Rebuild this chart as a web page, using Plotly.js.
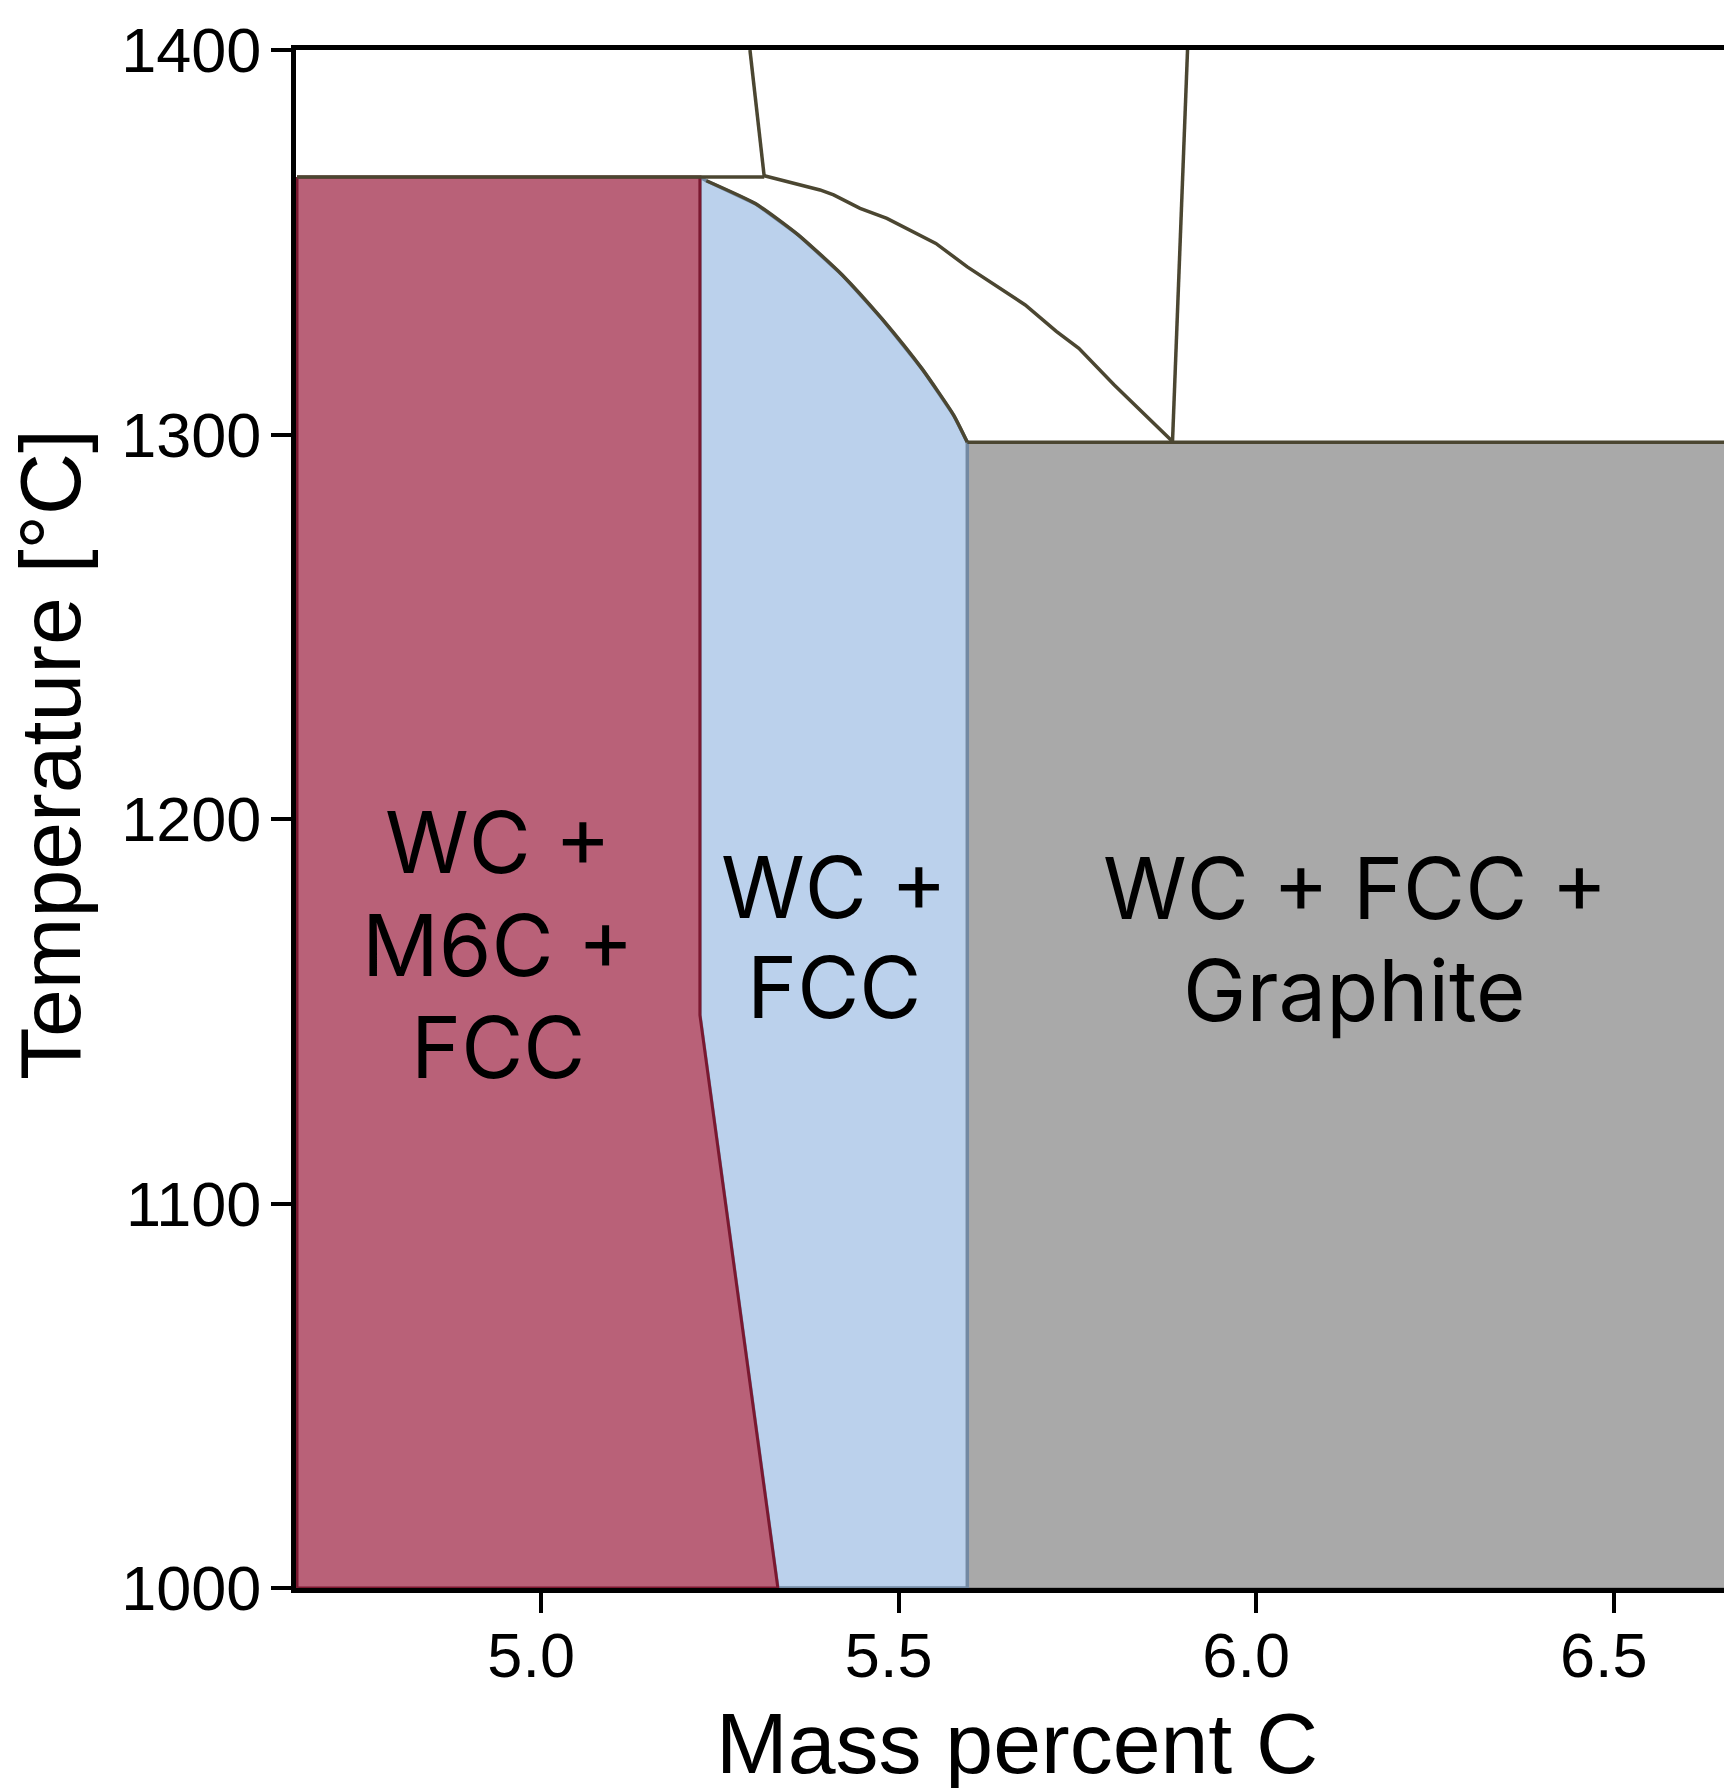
<!DOCTYPE html>
<html>
<head>
<meta charset="utf-8">
<script src="https://cdn.plot.ly/plotly-3.0.1.min.js"></script>
<style>html,body{margin:0;padding:0;background:#fff;}#chart{width:1724px;height:1788px;}</style>
</head>
<body>
<div id="chart"></div>
<script>
// ---------- data ----------
// WC + M6C + FCC field
const m6cX = [4.6585, 5.222, 5.222, 5.331, 4.6585, 4.6585];
const m6cT = [1367, 1367, 1149, 1000, 1000, 1367];
// WC + FCC field
const fccX = [5.222, 5.231, 5.300, 5.359, 5.421, 5.477, 5.533, 5.577, 5.596, 5.596, 5.331, 5.222, 5.222];
const fccT = [1367, 1366, 1360, 1352, 1341.5, 1330, 1317, 1305, 1298, 1000, 1000, 1149, 1367];
// WC + FCC + Graphite field
const grX = [5.596, 6.70, 6.70, 5.596, 5.596];
const grT = [1298, 1298, 1000, 1000, 1298];
// phase boundary lines
const solidusX = [4.6585, 5.312];
const solidusT = [1367, 1367];
const leftTieX = [5.312, 5.292];
const leftTieT = [1367, 1400];
const fccLiqX = [5.231, 5.300, 5.359, 5.421, 5.477, 5.533, 5.577, 5.596];
const fccLiqT = [1366, 1360, 1352, 1341.5, 1330, 1317, 1305, 1298];
const liqX = [5.312, 5.390, 5.409, 5.446, 5.4835, 5.552, 5.596, 5.677, 5.7205, 5.752, 5.8015, 5.883];
const liqT = [1367.3, 1363.6, 1362.3, 1358.8, 1356.2, 1349.7, 1343.6, 1333.7, 1326.8, 1322.4, 1312.9, 1298.2];
const rightTieX = [5.883, 5.904];
const rightTieT = [1298.2, 1400];
const eutX = [5.596, 6.70];
const eutT = [1298, 1298];
// tick labels and region labels
const xTicks = [5.0, 5.5, 6.0, 6.5];
const xTickText = ['5.0', '5.5', '6.0', '6.5'];
const yTicks = [1000, 1100, 1200, 1300, 1400];
const yTickText = ['1000', '1100', '1200', '1300', '1400'];
const m6cLabel = ['WC +', 'M6C +', 'FCC'];
const fccLabel = ['WC +', 'FCC'];
const grLabel = ['WC + FCC +', 'Graphite'];
const xTitle = 'Mass percent C';
const yTitle = 'Temperature [°C]';

// ---------- styles ----------
const olive = '#4b4631';
const traces = [
  {x: grX, y: grT, mode: 'lines', fill: 'toself', fillcolor: '#a9a9a9',
   line: {color: '#8c8c8c', width: 2}, hoverinfo: 'skip'},
  {x: fccX, y: fccT, mode: 'lines', fill: 'toself', fillcolor: '#bbd1ec',
   line: {color: '#7389a2', width: 3.5}, hoverinfo: 'skip'},
  {x: m6cX, y: m6cT, mode: 'lines', fill: 'toself', fillcolor: '#b96178',
   line: {color: '#7a1830', width: 3}, hoverinfo: 'skip'},
  {x: solidusX, y: solidusT, mode: 'lines', line: {color: olive, width: 3.5}, hoverinfo: 'skip'},
  {x: leftTieX, y: leftTieT, mode: 'lines', line: {color: olive, width: 3.5}, hoverinfo: 'skip'},
  {x: fccLiqX, y: fccLiqT, mode: 'lines', line: {color: olive, width: 3.5, shape: 'spline', smoothing: 0.6}, hoverinfo: 'skip'},
  {x: liqX, y: liqT, mode: 'lines', line: {color: olive, width: 3.5}, hoverinfo: 'skip'},
  {x: rightTieX, y: rightTieT, mode: 'lines', line: {color: olive, width: 3.5}, hoverinfo: 'skip'},
  {x: eutX, y: eutT, mode: 'lines', line: {color: olive, width: 3.5}, hoverinfo: 'skip'}
];

const labelFont = {family: 'Inter, "Open Sans", sans-serif', size: 85, color: '#000'};
const annotations = [];
function addLines(lines, x, ys) {
  lines.forEach((t, i) => annotations.push({
    x: x, y: ys[i], xref: 'x', yref: 'y', text: t, showarrow: false,
    xanchor: 'center', yanchor: 'middle', font: labelFont
  }));
}
addLines(m6cLabel, 4.939, [1194.0, 1167.0, 1140.7]);
addLines(fccLabel, 5.410, [1182.3, 1156.3]);
addLines(grLabel, 6.138, [1182.0, 1155.5]);

const axisFont = {family: '"Liberation Sans", Arial, sans-serif', size: 86, color: '#000'};
annotations.push({
  xref: 'paper', yref: 'paper', x: 0, y: 0.5416, xshift: -246,
  xanchor: 'center', yanchor: 'middle', textangle: -90,
  text: yTitle, showarrow: false, font: axisFont
});
annotations.push({
  xref: 'paper', yref: 'paper', x: 0.5, y: 0, xshift: 7, yshift: -105,
  xanchor: 'center', yanchor: 'top',
  text: xTitle, showarrow: false, font: axisFont
});

const tickFont = {family: '"Liberation Sans", Arial, sans-serif', size: 63, color: '#000'};
const layout = {
  width: 1724, height: 1788,
  margin: {l: 296, r: 0, t: 50, b: 200, pad: 0},
  paper_bgcolor: '#ffffff', plot_bgcolor: '#ffffff',
  showlegend: false,
  xaxis: {
    range: [4.6571, 6.6543], tickvals: xTicks, ticktext: xTickText,
    ticks: 'outside', ticklen: 20, tickwidth: 4, tickcolor: '#000',
    showline: true, linewidth: 5, linecolor: '#000', mirror: true,
    showgrid: false, zeroline: false, tickfont: tickFont,
    ticklabelshift: -10, ticklabelstandoff: -12
  },
  yaxis: {
    range: [1000, 1400], tickvals: yTicks, ticktext: yTickText,
    ticks: 'outside', ticklen: 20, tickwidth: 4, tickcolor: '#000',
    showline: true, linewidth: 5, linecolor: '#000',
    showgrid: false, zeroline: false, tickfont: tickFont,
    ticklabelstandoff: -3
  },
  annotations: annotations
};
Plotly.newPlot('chart', traces, layout, {displayModeBar: false, staticPlot: true});
</script>
</body>
</html>
